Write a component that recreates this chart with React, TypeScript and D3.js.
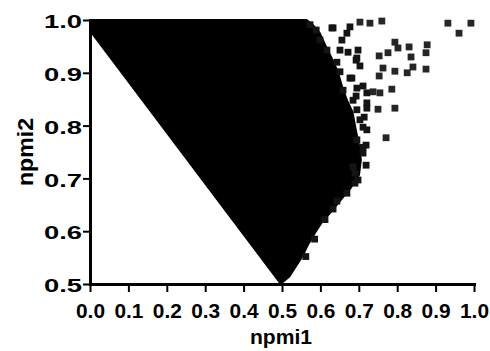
import React, { useEffect, useRef } from 'react';
import * as d3 from 'd3';

const xTicks: number[] = [0, 0.1, 0.2, 0.3, 0.4, 0.5, 0.6, 0.7, 0.8, 0.9, 1.0];
const yTicks: number[] = [0.5, 0.6, 0.7, 0.8, 0.9, 1.0];
const xTitle = 'npmi1';
const yTitle = 'npmi2';

// Outline of the dense (overplotted) point mass [npmi1, npmi2]
const denseOutline: [number, number][] = [
  [0.0, 1.002], [0.565, 1.002], [0.582, 0.992], [0.6, 0.977], [0.615, 0.953],
  [0.632, 0.928], [0.648, 0.902], [0.66, 0.871], [0.672, 0.848], [0.686, 0.826],
  [0.694, 0.795], [0.703, 0.763], [0.708, 0.735], [0.703, 0.706], [0.682, 0.682],
  [0.656, 0.659], [0.63, 0.636], [0.607, 0.617], [0.589, 0.597], [0.57, 0.574],
  [0.555, 0.551], [0.536, 0.53], [0.521, 0.513], [0.503, 0.502], [0.492, 0.502],
  [0.005, 0.972], [0.0, 0.972],
];

// Points along the ragged edge of the mass
const edgePoints: [number, number][] = [
  [0.633, 0.985], [0.677, 0.987], [0.656, 0.962], [0.672, 0.939], [0.693, 0.924],
  [0.703, 0.913], [0.682, 0.89], [0.711, 0.875], [0.693, 0.856], [0.721, 0.843],
  [0.714, 0.816], [0.721, 0.792], [0.719, 0.763], [0.711, 0.748], [0.719, 0.725],
  [0.685, 0.722], [0.698, 0.697], [0.69, 0.691], [0.669, 0.672], [0.643, 0.657],
  [0.633, 0.642], [0.573, 0.991], [0.589, 0.981], [0.63, 0.985], [0.669, 0.975],
  [0.599, 0.962], [0.617, 0.943], [0.651, 0.943], [0.698, 0.943], [0.695, 0.928],
  [0.643, 0.92], [0.651, 0.902], [0.677, 0.89], [0.659, 0.867], [0.695, 0.871],
  [0.721, 0.862], [0.685, 0.848], [0.721, 0.833], [0.695, 0.83], [0.703, 0.811],
  [0.711, 0.797], [0.695, 0.773], [0.711, 0.759], [0.69, 0.71], [0.612, 0.622],
  [0.585, 0.585], [0.562, 0.552],
];

// Scattered outlying points
const outliers: [number, number][] = [
  [0.932, 0.994], [0.992, 0.994], [0.961, 0.975], [0.794, 0.958], [0.831, 0.949],
  [0.878, 0.953], [0.875, 0.938], [0.802, 0.947], [0.776, 0.938], [0.753, 0.932],
  [0.836, 0.93], [0.763, 0.909], [0.794, 0.903], [0.841, 0.911], [0.826, 0.9],
  [0.875, 0.907], [0.753, 0.894], [0.786, 0.869], [0.755, 0.862], [0.737, 0.864],
  [0.794, 0.833], [0.75, 0.831], [0.771, 0.777], [0.703, 0.996], [0.729, 0.994],
  [0.76, 0.998],
];

export default function App() {
  const ref = useRef<SVGSVGElement>(null);

  useEffect(() => {
    const svg = d3.select(ref.current);
    svg.selectAll('*').remove();
    const font = 'Arial, "Liberation Sans", Helvetica, sans-serif';

    const x = d3.scaleLinear().domain([0, 1]).range([90, 474]);
    const y = d3.scaleLinear().domain([0.5, 1]).range([284, 20]);

    const plot = svg.append('g');
    const area = d3
      .line<[number, number]>()
      .x((d) => x(d[0]))
      .y((d) => y(d[1]))
      .curve(d3.curveLinearClosed);
    plot.append('path').attr('d', area(denseOutline) || '').attr('fill', '#000');

    const s = 6.8;
    plot
      .selectAll('rect.edge')
      .data(edgePoints)
      .join('rect')
      .attr('class', 'edge')
      .attr('x', (d) => x(d[0]) - s / 2)
      .attr('y', (d) => y(d[1]) - s / 2)
      .attr('width', s)
      .attr('height', s)
      .attr('fill', '#141414');

    plot
      .selectAll('rect.out')
      .data(outliers)
      .join('rect')
      .attr('class', 'out')
      .attr('x', (d) => x(d[0]) - s / 2)
      .attr('y', (d) => y(d[1]) - s / 2)
      .attr('width', s)
      .attr('height', s)
      .attr('fill', '#262626');

    // X axis
    const gx = svg
      .append('g')
      .attr('transform', 'translate(0,284)')
      .call(
        d3
          .axisBottom(x)
          .tickValues(xTicks)
          .tickFormat(d3.format('.1f') as any)
          .tickSizeInner(8)
          .tickSizeOuter(0)
          .tickPadding(11)
      );
    gx.select('.domain').attr('stroke', '#000').attr('stroke-width', 3).attr('stroke-linecap', 'square');
    gx.selectAll('.tick line').attr('stroke', '#000').attr('stroke-width', 2);
    gx.selectAll('.tick text')
      .attr('fill', '#000')
      .attr('font-family', font)
      .attr('font-weight', 'bold')
      .attr('font-size', 21)
      .attr('textLength', 29)
      .attr('lengthAdjust', 'spacingAndGlyphs');

    // Y axis
    const gy = svg
      .append('g')
      .attr('transform', 'translate(90,0)')
      .call(
        d3
          .axisLeft(y)
          .tickValues(yTicks)
          .tickFormat(d3.format('.1f') as any)
          .tickSizeInner(7)
          .tickSizeOuter(0)
          .tickPadding(1)
      );
    gy.select('.domain').attr('stroke', '#000').attr('stroke-width', 3).attr('stroke-linecap', 'square');
    gy.selectAll('.tick line').attr('stroke', '#000').attr('stroke-width', 2);
    gy.selectAll('.tick text')
      .attr('fill', '#000')
      .attr('font-family', font)
      .attr('font-weight', 'bold')
      .attr('font-size', 18.5)
      .attr('dy', '0.42em')
      .attr('textLength', 38)
      .attr('lengthAdjust', 'spacingAndGlyphs');

    // Titles
    svg
      .append('text')
      .attr('x', 281)
      .attr('y', 344)
      .attr('text-anchor', 'middle')
      .attr('font-family', font)
      .attr('font-weight', 'bold')
      .attr('font-size', 21)
      .attr('textLength', 62)
      .attr('lengthAdjust', 'spacingAndGlyphs')
      .attr('fill', '#000')
      .text(xTitle);

    svg
      .append('text')
      .attr('transform', 'translate(33,152) rotate(-90)')
      .attr('text-anchor', 'middle')
      .attr('font-family', font)
      .attr('font-weight', 'bold')
      .attr('font-size', 22)
      .attr('textLength', 68)
      .attr('lengthAdjust', 'spacingAndGlyphs')
      .attr('fill', '#000')
      .text(yTitle);
  }, []);

  return (
    <svg
      ref={ref}
      width={490}
      height={351}
      style={{ position: 'absolute', left: 0, top: 0, background: '#fff' }}
    />
  );
}
